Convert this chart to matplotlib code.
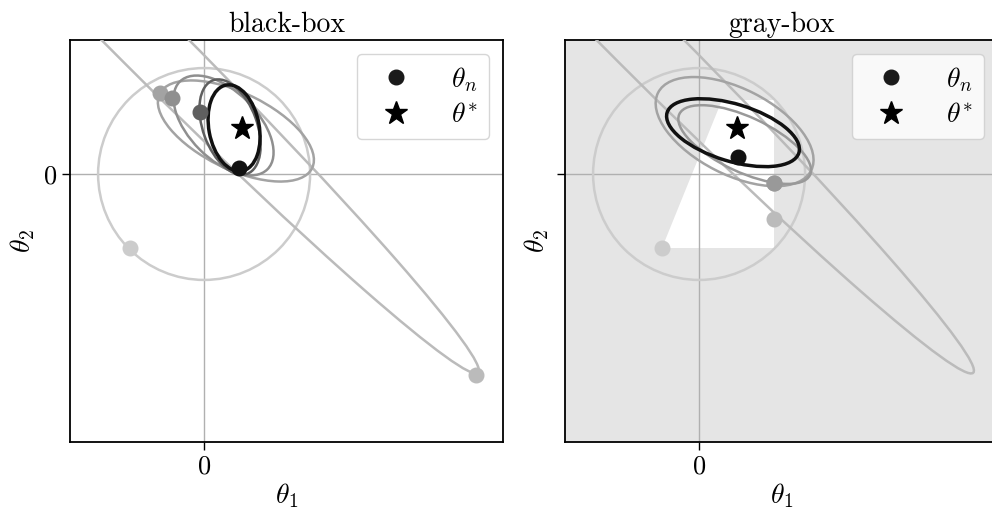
import numpy as np
import matplotlib
matplotlib.use('Agg')
import matplotlib.pyplot as plt
from matplotlib.patches import Ellipse, Polygon
from matplotlib.lines import Line2D

plt.rcParams['font.family'] = 'serif'
plt.rcParams['font.serif'] = ['cmr10']
plt.rcParams['mathtext.fontset'] = 'cm'
plt.rcParams['axes.formatter.use_mathtext'] = True

# star = true parameter
theta_star = (0.355, 0.43)

# black-box: ellipses (center x, center y, width, height, angle) and iterates
bb_ell = [(0.0, 0.0, 2.0, 2.0, 0),
          (-0.55, 1.26, 8.87, 0.585, -45),
          (0.30, 0.406, 1.60, 0.72, -26),
          (0.184, 0.458, 1.17, 0.64, -45),
          (0.245, 0.443, 0.94, 0.51, -70),
          (0.283, 0.434, 0.825, 0.475, -79.5)]
bb_pts_x = [-0.70, 2.566, -0.415, -0.30, -0.04, 0.33]
bb_pts_y = [-0.70, -1.90, 0.767, 0.714, 0.588, 0.057]
bb_col = ['#cccccc', '#bbbbbb', '#a3a3a3', '#8f8f8f', '#5f5f5f', '#111111']

# gray-box
gb_ell = [(0.0, 0.0, 2.0, 2.0, 0),
          (-0.55, 1.26, 8.87, 0.585, -45),
          (0.335, 0.40, 1.62, 0.81, -27),
          (0.43, 0.278, 1.36, 0.52, -25),
          (0.32, 0.39, 1.30, 0.54, -17)]
gb_col = ['#cccccc', '#bbbbbb', '#a3a3a3', '#999999', '#111111']
gb_pts_x = [-0.35, 0.708, 0.708, 0.708, 0.37]
gb_pts_y = [-0.70, -0.425, -0.085, -0.085, 0.16]
gb_pt_col = ['#cccccc', '#bbbbbb', '#999999', '#999999', '#111111']

# feasible set in gray-box case
feas_x = [-0.35, 0.71, 0.71, 0.22]
feas_y = [-0.70, -0.70, 0.70, 0.70]

fig = plt.figure(figsize=(9.92, 5.15), dpi=100)
ax1 = fig.add_axes([70/992, 73/515, 433/992, 402/515])
ax2 = fig.add_axes([565/992, 73/515, 433/992, 402/515])


def draw(ax, ells, ell_cols, px, py, pt_cols, title):
    ax.axhline(0, color='#b0b0b0', lw=1.0, zorder=1)
    ax.axvline(0, color='#b0b0b0', lw=1.0, zorder=1)
    for i, (cx, cy, w, h, a) in enumerate(ells):
        last = i == len(ells) - 1
        ax.add_patch(Ellipse((cx, cy), w, h, angle=a, fill=False,
                             edgecolor=ell_cols[i], lw=2.5 if last else 1.8,
                             zorder=2 + i))
    for i in range(len(px)):
        ax.plot(px[i], py[i], 'o', color=pt_cols[i], ms=10.5, zorder=10 + i)
    ax.plot(*theta_star, '*', color='black', ms=17, zorder=20)
    ax.set_xlim(-1.265, 2.82)
    ax.set_ylim(-2.53, 1.265)
    ax.set_xticks([0])
    ax.set_yticks([0])
    ax.tick_params(labelsize=19, length=6, width=1)
    ax.set_xlabel(r'$\theta_1$', fontsize=20, labelpad=2)
    ax.set_ylabel(r'$\theta_2$', fontsize=20, labelpad=4)
    ax.set_title(title, fontsize=20, pad=6)
    for s in ax.spines.values():
        s.set_linewidth(1.3)
    handles = [Line2D([], [], ls='none', marker='o', color='#1a1a1a', ms=10.5),
               Line2D([], [], ls='none', marker='*', color='black', ms=17)]
    ax.legend(handles, [r'$\theta_n$', r'$\theta^{*}$'], loc='upper right',
              fontsize=20, handletextpad=1.0, borderpad=0.4,
              labelspacing=0.3)


draw(ax1, bb_ell, bb_col, bb_pts_x, bb_pts_y, bb_col, 'black-box')
ax2.set_facecolor('#e5e5e5')
ax2.add_patch(Polygon(np.column_stack([feas_x, feas_y]), closed=True,
                      facecolor='white', edgecolor='none', zorder=0.5))
draw(ax2, gb_ell, gb_col, gb_pts_x, gb_pts_y, gb_pt_col, 'gray-box')
ax2.tick_params(labelleft=False)

fig.savefig('out.png', dpi=100)
